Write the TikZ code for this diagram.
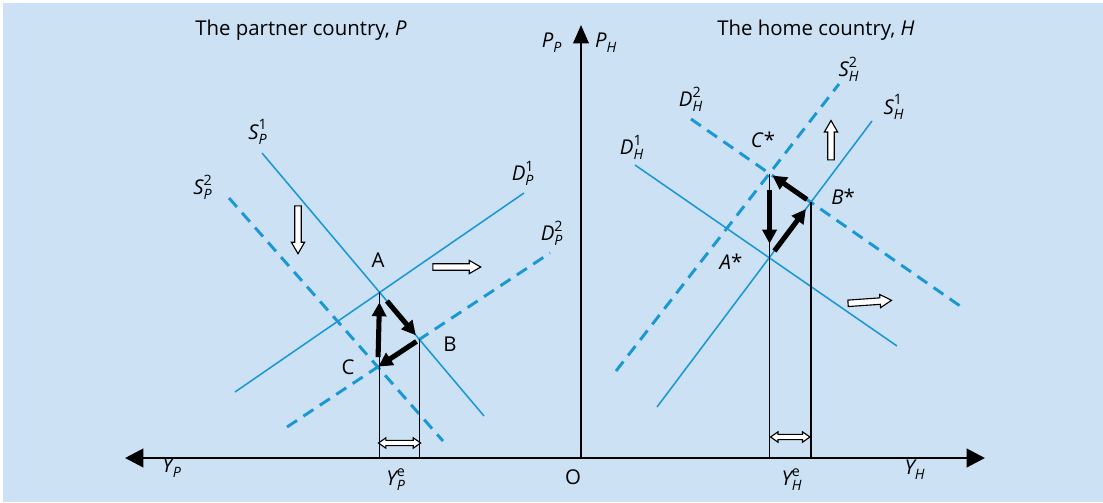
\documentclass[tikz,border=0pt]{standalone}
\usepackage{amsmath}
\usepackage{fontspec}
\setmainfont{Open Sans}
\usetikzlibrary{arrows.meta,calc,shapes.arrows}
\definecolor{Sky}{HTML}{CCE2F4}
\definecolor{Curve}{HTML}{1A98D5}
\newcommand{\crv}[3]{$\text{\itshape #1}_{\text{\itshape #2}}^{\text{#3}}$}

\begin{document}
\begin{tikzpicture}[x=0.025cm,y=-0.025cm,font=\fontsize{14.5}{17}\selectfont,
    solidcurve/.style={Curve,line width=1.1pt},
    dashcurve/.style={Curve,line width=2.1pt,dash pattern=on 8.5pt off 5.5pt},
    dropline/.style={black,line width=1.1pt},
    movearrow/.style={line width=3.6pt,-{Triangle[length=10pt,width=10pt]}},
    shiftarrow/.style={single arrow,draw,fill=white,line width=0.8pt,inner xsep=0pt,inner ysep=1.9pt,
      minimum width=8.5pt,single arrow head extend=2.4pt,single arrow tip angle=60},
    gaparrow/.style={double arrow,draw,fill=white,line width=0.8pt,inner xsep=0pt,inner ysep=1.5pt,
      minimum width=7pt,double arrow head extend=1.8pt,double arrow tip angle=70,minimum height=30pt}]
  \useasboundingbox (0,0) rectangle (1103,502);
  \fill[Sky] (3,3) rectangle (1103,502);
  % axes
  \coordinate (O) at (581,458);
  \coordinate (yl) at (125,458);
  \coordinate (yr) at (985,458);
  \coordinate (pt) at (581,25);
  \draw[line width=2.1pt,{Triangle[length=13pt,width=13pt]}-{Triangle[length=13pt,width=13pt]}] (yl) -- (yr);
  \draw[line width=1.4pt,-{Triangle[length=13pt,width=11pt]}] (O) -- (pt);
  \node (pp) at (552,43) {\crv{P}{P}{}};
  \node (ph) at (606,43) {\crv{P}{H}{}};
  \node (tp) at (301,30) {The partner country, \textit{P}};
  \node (th) at (816,30) {The home country, \textit{H}};
  \node (yp) at (172,468) {\crv{Y}{P}{}};
  \node (ype) at (396,480) {\crv{Y}{P}{e}};
  \node (o) at (573,477) {O};
  \node (yhe) at (792,480) {\crv{Y}{H}{e}};
  \node (yh) at (915,470) {\crv{Y}{H}{}};

  % partner country
  \coordinate (sP1a) at (262,153); \coordinate (sP1b) at (484,416);
  \coordinate (sP2a) at (229,198); \coordinate (sP2b) at (443,441);
  \coordinate (dP1a) at (235,392); \coordinate (dP1b) at (524,193);
  \coordinate (dP2a) at (287,427); \coordinate (dP2b) at (550,253);
  \draw[solidcurve] (sP1a) -- (sP1b);
  \draw[solidcurve] (dP1a) -- (dP1b);
  \draw[dashcurve] (sP2a) -- (sP2b);
  \draw[dashcurve] (dP2a) -- (dP2b);
  \coordinate (A) at (intersection of sP1a--sP1b and dP1a--dP1b);
  \coordinate (B) at (intersection of sP1a--sP1b and dP2a--dP2b);
  \coordinate (C) at (intersection of sP2a--sP2b and dP2a--dP2b);
  \draw[dropline] (A) -- (A |- O);
  \draw[dropline] (B) -- (B |- O);
  \draw[movearrow,shorten <=7pt,shorten >=7pt] (C) -- (A);
  \draw[movearrow,shorten <=8pt,shorten >=4pt] (A) -- (B);
  \draw[movearrow,shorten <=2.5pt,shorten >=0.5pt] (B) -- (C);
  \node[gaparrow] (gP) at ($(A |- O)!0.5!(B |- O)+(0,-15)$) {};
  \node[shiftarrow,rotate=-90,minimum height=34pt] (mS) at (298,227) {};
  \node[shiftarrow,minimum height=34pt] (mD) at (454,267) {};
  \node (lsP1) at (258,132) {\crv{S}{P}{1}};
  \node (lsP2) at (203,187) {\crv{S}{P}{2}};
  \node (ldP1) at (523,173) {\crv{D}{P}{1}};
  \node (ldP2) at (552,233) {\crv{D}{P}{2}};
  \node (la) at (378,260) {A};
  \node (lb) at (450,344) {B};
  \node (lc) at (348,367) {C};

  % home country
  \coordinate (sH1a) at (657,407); \coordinate (sH1b) at (872,121);
  \coordinate (sH2a) at (616,371); \coordinate (sH2b) at (839,84);
  \coordinate (dH1a) at (635,165); \coordinate (dH1b) at (897,346);
  \coordinate (dH2a) at (691,119); \coordinate (dH2b) at (963,308);
  \draw[solidcurve] (sH1a) -- (sH1b);
  \draw[solidcurve] (dH1a) -- (dH1b);
  \draw[dashcurve] (sH2a) -- (sH2b);
  \draw[dashcurve] (dH2a) -- (dH2b);
  \coordinate (As) at (intersection of sH1a--sH1b and dH1a--dH1b);
  \coordinate (Bs) at (intersection of sH1a--sH1b and dH2a--dH2b);
  \coordinate (Cs) at (intersection of sH2a--sH2b and dH2a--dH2b);
  \draw[dropline] (Cs) -- (Cs |- O);
  \draw[dropline] (Bs) -- (Bs |- O);
  \draw[movearrow,shorten <=12pt,shorten >=10pt] (Cs) -- (Cs |- As);
  \draw[movearrow,shorten <=6pt,shorten >=6pt] (As) -- (Bs);
  \draw[movearrow,shorten <=3.5pt,shorten >=2.5pt] (Bs) -- (Cs);
  \node[gaparrow,minimum height=28pt] (gH) at ($(Cs |- O)!0.5!(Bs |- O)+(0,-21)$) {};
  \node[shiftarrow,rotate=90,minimum height=28pt] (mSH) at (831,143) {};
  \node[shiftarrow,rotate=4,minimum height=31pt] (mDH) at (867,302) {};
  \node (lsH1) at (894,107) {\crv{S}{H}{1}};
  \node (lsH2) at (849,69) {\crv{S}{H}{2}};
  \node (ldH1) at (632,147) {\crv{D}{H}{1}};
  \node (ldH2) at (691,99) {\crv{D}{H}{2}};
  \node (las) at (731,262) {\textit{A}*};
  \node (lbs) at (843,197) {\textit{B}*};
  \node (lcs) at (763,140) {\textit{C}*};
\end{tikzpicture}
\end{document}
